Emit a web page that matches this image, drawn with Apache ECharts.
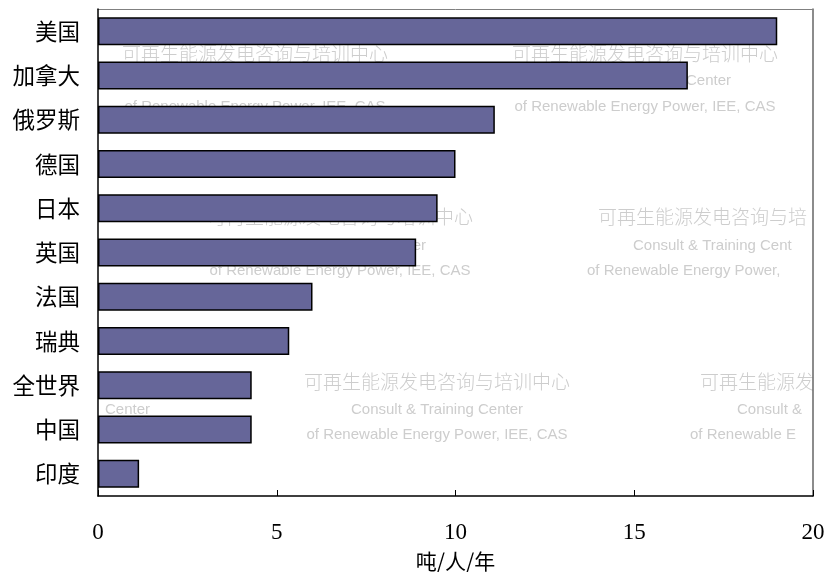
<!DOCTYPE html>
<html>
<head>
<meta charset="utf-8">
<script src="https://cdn.jsdelivr.net/npm/echarts@6/dist/echarts.min.js"></script>
<style>
  html, body { margin: 0; padding: 0; background: #fff; }
  #chart { width: 827px; height: 572px; }
</style>
</head>
<body>
<div id="chart"></div>
<script>
// 国家 / 人均排放
var countries = ['美国', '加拿大', '俄罗斯', '德国', '日本', '英国', '法国', '瑞典', '全世界', '中国', '印度'];
var perCapita = [19.0, 16.5, 11.1, 10.0, 9.5, 8.9, 6.0, 5.35, 4.3, 4.3, 1.15];
var xTicks = [0, 5, 10, 15, 20];
var unitName = '吨/人/年';

var wmCn = '可再生能源发电咨询与培训中心';
var wmEn1 = 'Consult & Training Center';
var wmEn2 = 'of Renewable Energy Power, IEE, CAS';

function wmText(x, y, text, align, isCn) {
  return {
    type: 'text', x: x, y: y, z: 0, silent: true,
    style: {
      text: text, fill: '#cdcdcd', align: align, verticalAlign: 'middle',
      font: isCn ? '300 19px "Noto Sans CJK SC"' : '15px "Liberation Sans"'
    }
  };
}
// 水印
var watermark = [
  wmText(255, 54, wmCn, 'center', true),
  wmText(255, 81, wmEn1, 'center'),
  wmText(255, 107, wmEn2, 'center'),
  wmText(645, 54, wmCn, 'center', true),
  wmText(645, 81, wmEn1, 'center'),
  wmText(645, 107, wmEn2, 'center'),
  wmText(340, 217, wmCn, 'center', true),
  wmText(340, 246, wmEn1, 'center'),
  wmText(340, 271, wmEn2, 'center'),
  wmText(598, 217, '可再生能源发电咨询与培', 'left', true),
  wmText(633, 246, 'Consult & Training Cent', 'left'),
  wmText(587, 271, 'of Renewable Energy Power,', 'left'),
  wmText(437, 382, wmCn, 'center', true),
  wmText(437, 410, wmEn1, 'center'),
  wmText(437, 435, wmEn2, 'center'),
  wmText(700, 382, '可再生能源发', 'left', true),
  wmText(737, 410, 'Consult &', 'left'),
  wmText(690, 435, 'of Renewable E', 'left'),
  wmText(150, 410, 'Center', 'right')
];

var myChart = echarts.init(document.getElementById('chart'));
myChart.setOption({
  animation: false,
  backgroundColor: '#fff',
  graphic: watermark,
  grid: { left: 98, right: 14, top: 9, bottom: 76, containLabel: false, outerBoundsMode: 'none' },
  xAxis: [{
    type: 'value',
    position: 'bottom',
    min: xTicks[0],
    max: xTicks[xTicks.length - 1],
    interval: 5,
    name: unitName,
    nameLocation: 'middle',
    nameGap: 55,
    nameTextStyle: { fontSize: 21, color: '#000', fontFamily: 'Noto Sans CJK SC' },
    axisLine: { show: true, onZero: false, lineStyle: { color: '#000', width: 1.5 } },
    axisTick: { show: true, inside: true, length: 6, lineStyle: { color: '#000' } },
    axisLabel: { fontSize: 23, color: '#000', fontFamily: 'Liberation Serif', margin: 25 },
    splitLine: { show: false },
    z: 5
  }, {
    // 上边框
    type: 'value',
    position: 'top',
    min: xTicks[0],
    max: xTicks[xTicks.length - 1],
    interval: 5,
    axisLine: { show: true, onZero: false, lineStyle: { color: '#808080', width: 1 } },
    axisTick: { show: false },
    axisLabel: { show: false },
    splitLine: { show: false }
  }],
  yAxis: [{
    type: 'category',
    inverse: true,
    data: countries,
    axisLine: { show: true, onZero: false, lineStyle: { color: '#000', width: 1.5 } },
    axisTick: { show: false },
    axisLabel: { fontSize: 22.5, color: '#000', fontFamily: 'Noto Sans CJK SC', margin: 18 },
    z: 5
  }, {
    // 右边框
    type: 'category',
    position: 'right',
    inverse: true,
    data: countries,
    axisLine: { show: true, onZero: false, lineStyle: { color: '#666666', width: 1.5 } },
    axisTick: { show: false },
    axisLabel: { show: false }
  }],
  series: [{
    type: 'bar',
    data: perCapita,
    barWidth: 28,
    itemStyle: { color: '#666699', borderColor: '#000', borderWidth: 1.5 }
  }]
});
</script>
</body>
</html>
